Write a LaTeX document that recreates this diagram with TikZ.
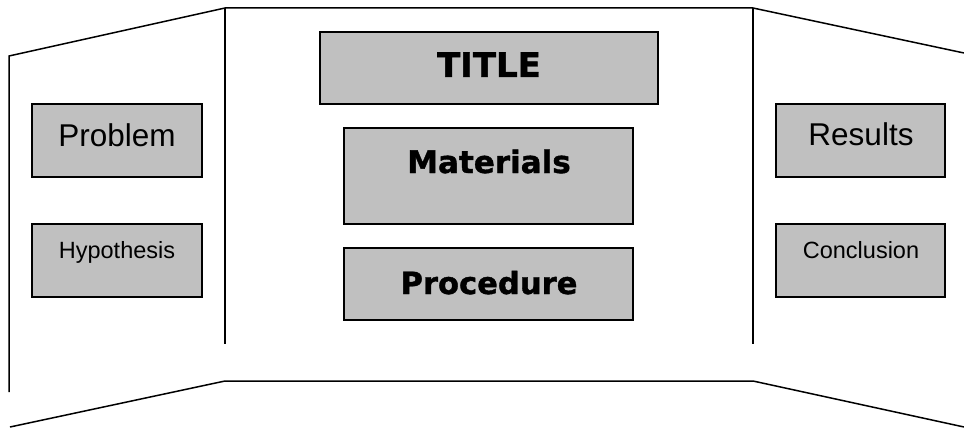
\documentclass[tikz,border=0pt]{standalone}
\usepackage{fontspec}
\setmainfont{Liberation Sans}
\newfontfamily\heavy{DejaVu Sans}[BoldFeatures={FakeBold=1.2}]
\tikzset{
  panel/.style={line width=1.5pt, line join=miter},
  box/.style={draw=black, fill=boxgray, line width=1.5pt, inner sep=0pt, outer sep=0pt},
  lab/.style={anchor=base, inner sep=0pt, text=black},
}
\definecolor{boxgray}{HTML}{C0C0C0}
\begin{document}
\begin{tikzpicture}[x=1pt, y=-1pt]
\useasboundingbox (0,0) rectangle (964,428);
% coordinates of the board
\coordinate (ltl) at (9,56);
\coordinate (ctl) at (225,8);
\coordinate (ctr) at (753,8);
\coordinate (rtr) at (964,53);
\coordinate (lbl) at (9,392);
\coordinate (cml) at (225,344);
\coordinate (cmr) at (753,344);
\coordinate (cbl) at (225,381);
\coordinate (cbr) at (753,381);
\coordinate (lbb) at (10,427);
\coordinate (rbb) at (964,427);
% panel outline
\draw[panel] (lbl) -- (ltl) -- (ctl) -- (ctr) -- (rtr);
\draw[panel] (ctl) -- (cml);
\draw[panel] (ctr) -- (cmr);
\draw[panel] (lbb) -- (cbl) -- (cbr) -- (rbb);
% boxes
\node[box, minimum width=338pt, minimum height=72pt] (title) at (489,68) {};
\node[lab] (titlet) at (489,77) {\heavy\bfseries\fontsize{34}{38}\selectfont TITLE};
\node[box, minimum width=289pt, minimum height=96pt] (mat) at (488.5,176) {};
\node[lab] (matt) at (489,173) {\heavy\bfseries\fontsize{31}{36}\selectfont Materials};
\node[box, minimum width=289pt, minimum height=72pt] (proc) at (488.5,284) {};
\node[lab] (proct) at (489,294) {\heavy\bfseries\fontsize{30.6}{36}\selectfont Procedure};
\node[box, minimum width=170pt, minimum height=73pt] (prob) at (117,140.5) {};
\node[lab] (probt) at (117,146) {\fontsize{31.5}{36}\selectfont Problem};
\node[box, minimum width=170pt, minimum height=73pt] (hyp) at (117,260.5) {};
\node[lab] (hypt) at (117,258) {\fontsize{23.5}{27}\selectfont Hypothesis};
\node[box, minimum width=169pt, minimum height=73pt] (res) at (860.5,140.5) {};
\node[lab] (rest) at (861,145) {\fontsize{31.5}{36}\selectfont Results};
\node[box, minimum width=169pt, minimum height=73pt] (conc) at (860.5,260.5) {};
\node[lab] (conct) at (861,258) {\fontsize{23.5}{27}\selectfont Conclusion};
\end{tikzpicture}
\end{document}
